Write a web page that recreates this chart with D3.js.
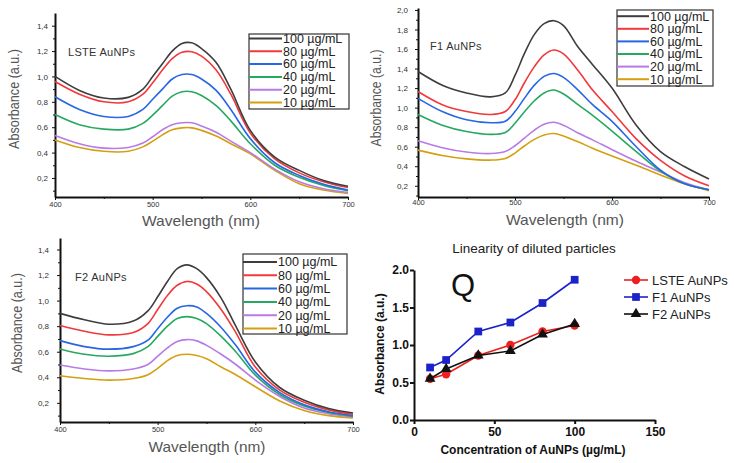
<!DOCTYPE html>
<html>
<head>
<meta charset="utf-8">
<script src="https://cdn.jsdelivr.net/npm/d3@7"></script>
<style>
body{margin:0;background:#fff;}
svg{font-family:"Liberation Sans",Arial,sans-serif;}
.spec .tick text{fill:#333;}
.spec .domain,.spec .tick line{stroke:#111;}
.lin .tick text{font-size:12px;font-weight:bold;fill:#111;}
.lin .domain,.lin .tick line{stroke:#111;stroke-width:2px;}
</style>
</head>
<body>
<svg id="chart" width="734" height="463"></svg>
<script>
// shared x values for the three spectra panels (nm)
var wavelengths = [400,425,450,475,490,500,510,520,530,540,550,565,580,600,625,650,675,700];
var concLabels = ["100 \u00b5g/mL","80 \u00b5g/mL","60 \u00b5g/mL","40 \u00b5g/mL","20 \u00b5g/mL","10 \u00b5g/mL"];
var concColors = ["#3d3d3d","#f2383a","#2767e3","#27a862","#b77ae6","#d4a011"];

// absorbance per concentration, same order as concLabels
var lsteSpectra = [
  [1.00,0.89,0.83,0.835,0.90,1.00,1.10,1.20,1.26,1.265,1.22,1.11,0.90,0.575,0.365,0.26,0.18,0.135],
  [0.96,0.86,0.80,0.80,0.86,0.95,1.05,1.14,1.19,1.195,1.16,1.05,0.86,0.555,0.35,0.24,0.17,0.125],
  [0.84,0.74,0.685,0.685,0.74,0.82,0.90,0.98,1.015,1.015,0.98,0.89,0.74,0.51,0.32,0.22,0.15,0.105],
  [0.70,0.62,0.585,0.585,0.63,0.695,0.77,0.845,0.88,0.88,0.85,0.77,0.65,0.47,0.30,0.205,0.14,0.10],
  [0.535,0.47,0.435,0.44,0.475,0.525,0.58,0.62,0.635,0.635,0.61,0.56,0.49,0.40,0.27,0.17,0.115,0.085],
  [0.50,0.44,0.41,0.41,0.445,0.49,0.54,0.58,0.595,0.595,0.575,0.53,0.47,0.39,0.26,0.155,0.105,0.077]
];
var f1Spectra = [
  [1.37,1.23,1.15,1.11,1.15,1.33,1.56,1.75,1.86,1.89,1.84,1.62,1.44,1.20,0.82,0.55,0.395,0.27],
  [1.165,1.03,0.96,0.93,0.96,1.08,1.26,1.42,1.54,1.59,1.55,1.38,1.18,0.96,0.68,0.46,0.30,0.20],
  [1.095,0.96,0.875,0.845,0.86,0.96,1.10,1.23,1.32,1.35,1.31,1.18,1.03,0.86,0.60,0.36,0.22,0.16],
  [0.93,0.82,0.755,0.726,0.745,0.84,0.96,1.07,1.15,1.18,1.14,1.03,0.92,0.76,0.55,0.35,0.22,0.16],
  [0.66,0.59,0.545,0.53,0.55,0.61,0.69,0.77,0.83,0.85,0.82,0.74,0.67,0.57,0.45,0.34,0.23,0.16],
  [0.565,0.51,0.475,0.463,0.48,0.535,0.61,0.675,0.72,0.735,0.71,0.65,0.585,0.505,0.41,0.31,0.22,0.15]
];
var f2Spectra = [
  [0.90,0.85,0.815,0.84,0.92,1.03,1.15,1.25,1.28,1.25,1.18,1.02,0.80,0.52,0.32,0.22,0.155,0.12],
  [0.805,0.76,0.732,0.75,0.82,0.93,1.04,1.12,1.15,1.13,1.07,0.93,0.75,0.48,0.30,0.205,0.145,0.11],
  [0.687,0.64,0.62,0.64,0.69,0.78,0.87,0.94,0.96,0.95,0.90,0.79,0.65,0.44,0.28,0.185,0.13,0.10],
  [0.622,0.58,0.565,0.585,0.64,0.72,0.80,0.86,0.875,0.86,0.82,0.72,0.60,0.417,0.265,0.175,0.125,0.095],
  [0.496,0.465,0.45,0.465,0.50,0.565,0.63,0.68,0.695,0.685,0.65,0.58,0.50,0.378,0.25,0.16,0.115,0.09],
  [0.412,0.39,0.378,0.39,0.42,0.47,0.53,0.57,0.58,0.57,0.545,0.48,0.42,0.326,0.215,0.14,0.10,0.082]
];

// linearity panel
var concentrations = [10,20,40,60,80,100];
var lsteLinear = [0.55,0.61,0.86,1.00,1.18,1.26];
var f1Linear = [0.70,0.80,1.18,1.30,1.56,1.87];
var f2Linear = [0.55,0.68,0.86,0.92,1.14,1.28];
var linNames = ["LSTE AuNPs","F1 AuNPs","F2 AuNPs"];

var svg = d3.select("#chart");
var comma = function(d){ return d3.format(".1f")(d).replace(".",","); };

var drawSpectrum = function(spectra,name,cfg)
{
  var g = svg.append("g").classed("spec",true);
  var xScale = d3.scaleLinear().domain([400,700]).range([cfg.left,cfg.right]);
  var yScale = d3.scaleLinear().domain(cfg.ydom).range([cfg.bottom,cfg.top]);

  var yTicks = d3.range(0.2,cfg.ymax+0.001,0.2).map(function(d){return +d.toFixed(1);});
  var yMinor = d3.range(0.1,cfg.ydom[1],0.2).map(function(d){return +d.toFixed(1);});

  var xa = g.append("g")
    .attr("transform","translate(0,"+cfg.bottom+")")
    .call(d3.axisBottom(xScale).tickValues([400,500,600,700]).tickSize(3).tickSizeOuter(0).tickPadding(cfg.xpad));
  xa.selectAll("text").style("font-size","7.5px");
  g.append("g")
    .attr("transform","translate(0,"+cfg.bottom+")")
    .call(d3.axisBottom(xScale).tickValues([450,550,650]).tickSize(2).tickFormat(""))
    .select(".domain").remove();
  var ya = g.append("g")
    .attr("transform","translate("+cfg.left+",0)")
    .call(d3.axisLeft(yScale).tickValues(yTicks).tickFormat(comma).tickSize(3).tickSizeOuter(0).tickPadding(cfg.ypad));
  ya.selectAll("text").style("font-size","8px");
  g.append("g")
    .attr("transform","translate("+cfg.left+",0)")
    .call(d3.axisLeft(yScale).tickValues(yMinor).tickSize(2).tickFormat(""))
    .select(".domain").remove();
  g.selectAll(".domain").attr("stroke-width",2);

  var line = d3.line()
    .x(function(d,i){return xScale(wavelengths[i]);})
    .y(function(d){return yScale(d);})
    .curve(d3.curveCatmullRom.alpha(0.5));

  g.selectAll("path.curve")
    .data(spectra.slice().reverse())
    .enter()
    .append("path")
    .classed("curve",true)
    .attr("d",line)
    .attr("fill","none")
    .attr("stroke-width",1.6)
    .attr("stroke",function(d,i){return concColors[spectra.length-1-i];});

  // labels
  g.append("text").text(name)
    .attr("x",cfg.nameX).attr("y",cfg.nameY).attr("dy","0.35em")
    .style("font-size","11px").style("fill","#333").style("letter-spacing","0.3px");
  g.append("text").text("Wavelength (nm)")
    .attr("text-anchor","middle")
    .attr("x",cfg.xlabX).attr("y",cfg.xlabY).attr("dy","0.35em")
    .attr("textLength",cfg.xlabLen).attr("lengthAdjust","spacingAndGlyphs")
    .style("font-size","15px").style("fill","#555");
  g.append("text").text("Absorbance (a.u.)")
    .attr("text-anchor","middle")
    .attr("transform","translate("+cfg.ylabX+","+cfg.ylabY+") rotate(-90)")
    .attr("dy","0.35em")
    .attr("textLength",cfg.ylabLen).attr("lengthAdjust","spacingAndGlyphs")
    .style("font-size","15px").style("fill","#555");

  // legend
  var lg = cfg.legend;
  g.append("rect")
    .attr("x",lg.x).attr("y",lg.y).attr("width",lg.w).attr("height",lg.h)
    .attr("fill","#fff").attr("stroke","#333").attr("stroke-width",1.2);
  var entries = g.selectAll("g.entry")
    .data(concLabels)
    .enter()
    .append("g")
    .classed("entry",true)
    .attr("transform",function(d,i){return "translate("+lg.x+","+(lg.row0+i*lg.step)+")";});
  entries.append("line")
    .attr("x1",0).attr("x2",lg.lineLen).attr("y1",0).attr("y2",0)
    .attr("stroke",function(d,i){return concColors[i];}).attr("stroke-width",2);
  entries.append("text").text(function(d){return d;})
    .attr("x",lg.lineLen+1).attr("dy","0.35em")
    .style("font-size",lg.font).style("fill","#222");
}

drawSpectrum(lsteSpectra,"LSTE AuNPs",{
  left:55,right:348,top:13,bottom:197,ydom:[0.05,1.5],ymax:1.4,xpad:2,ypad:4,
  nameX:68,nameY:52,xlabX:201,xlabY:221,xlabLen:118,ylabX:14,ylabY:99,ylabLen:100,
  legend:{x:249,y:34,w:100,h:75,row0:38.5,step:12.8,lineLen:33,font:"12.5px"}
});
drawSpectrum(f1Spectra,"F1 AuNPs",{
  left:418,right:709,top:8,bottom:197,ydom:[0.085,2.02],ymax:2.0,xpad:0,ypad:7,
  nameX:430,nameY:46,xlabX:565,xlabY:220,xlabLen:118,ylabX:376,ylabY:98,ylabLen:97,
  legend:{x:617,y:10,w:96,h:76,row0:16.2,step:12.6,lineLen:32,font:"12.5px"}
});
drawSpectrum(f2Spectra,"F2 AuNPs",{
  left:60,right:353,top:238,bottom:422,ydom:[0.05,1.49],ymax:1.4,xpad:2,ypad:8,
  nameX:75,nameY:277,xlabX:207,xlabY:447,xlabLen:117,ylabX:17,ylabY:323,ylabLen:100,
  legend:{x:243,y:254,w:104,h:80,row0:262,step:13.3,lineLen:34,font:"12.5px"}
});

// linearity panel
var drawLinearity = function()
{
  var g = svg.append("g").classed("lin",true);
  var xScale = d3.scaleLinear().domain([0,150]).range([414,655]);
  var yScale = d3.scaleLinear().domain([0,2]).range([420,270]);

  g.append("g").attr("transform","translate(0,420)")
    .call(d3.axisBottom(xScale).tickValues([0,50,100,150]).tickSize(4).tickSizeOuter(0).tickPadding(3));
  g.append("g").attr("transform","translate(414,0)")
    .call(d3.axisLeft(yScale).tickValues([0,0.5,1,1.5,2]).tickFormat(d3.format(".1f")).tickSize(4).tickSizeOuter(0).tickPadding(1));

  var series = [lsteLinear,f1Linear,f2Linear];
  var colors = ["#ee1f1f","#1c22c9","#111"];
  var symbols = [d3.symbolCircle,d3.symbolSquare,d3.symbolTriangle];
  var sizes = [55,60,50];

  var line = d3.line()
    .x(function(d,i){return xScale(concentrations[i]);})
    .y(function(d){return yScale(d);});

  series.forEach(function(s,k)
  {
    g.append("path").attr("d",line(s)).attr("fill","none")
      .attr("stroke",colors[k]).attr("stroke-width",1.6);
    g.selectAll("path.m"+k).data(s).enter().append("path")
      .attr("class","m"+k)
      .attr("d",d3.symbol().type(symbols[k]).size(sizes[k]))
      .attr("fill",colors[k])
      .attr("transform",function(d,i){return "translate("+xScale(concentrations[i])+","+yScale(d)+")";});
  });

  g.append("text").text("Linearity of diluted particles")
    .attr("text-anchor","middle").attr("x",534).attr("y",248).attr("dy","0.35em")
    .style("font-size","13.5px").style("fill","#222");
  g.append("text").text("Q")
    .attr("text-anchor","middle").attr("x",463).attr("y",296)
    .style("font-size","31px").style("fill","#111");
  g.append("text").text("Concentration of AuNPs (\u00b5g/mL)")
    .attr("text-anchor","middle").attr("x",533).attr("y",450).attr("dy","0.35em")
    .style("font-size","12px").style("font-weight","bold").style("fill","#111");
  g.append("text").text("Absorbance (a.u.)")
    .attr("text-anchor","middle")
    .attr("transform","translate(380,344) rotate(-90)").attr("dy","0.35em")
    .style("font-size","12px").style("font-weight","bold").style("fill","#111");

  var entries = g.selectAll("g.lentry").data(linNames).enter().append("g")
    .classed("lentry",true)
    .attr("transform",function(d,i){return "translate(624,"+(280+i*17)+")";});
  entries.append("line").attr("x1",0).attr("x2",24)
    .attr("stroke",function(d,i){return colors[i];}).attr("stroke-width",1.6);
  entries.append("path")
    .attr("d",function(d,i){return d3.symbol().type(symbols[i]).size(sizes[i])();})
    .attr("fill",function(d,i){return colors[i];})
    .attr("transform","translate(12,0)");
  entries.append("text").text(function(d){return d;})
    .attr("x",28).attr("dy","0.35em")
    .style("font-size","13px").style("fill","#222");
}
drawLinearity();
</script>
</body>
</html>
